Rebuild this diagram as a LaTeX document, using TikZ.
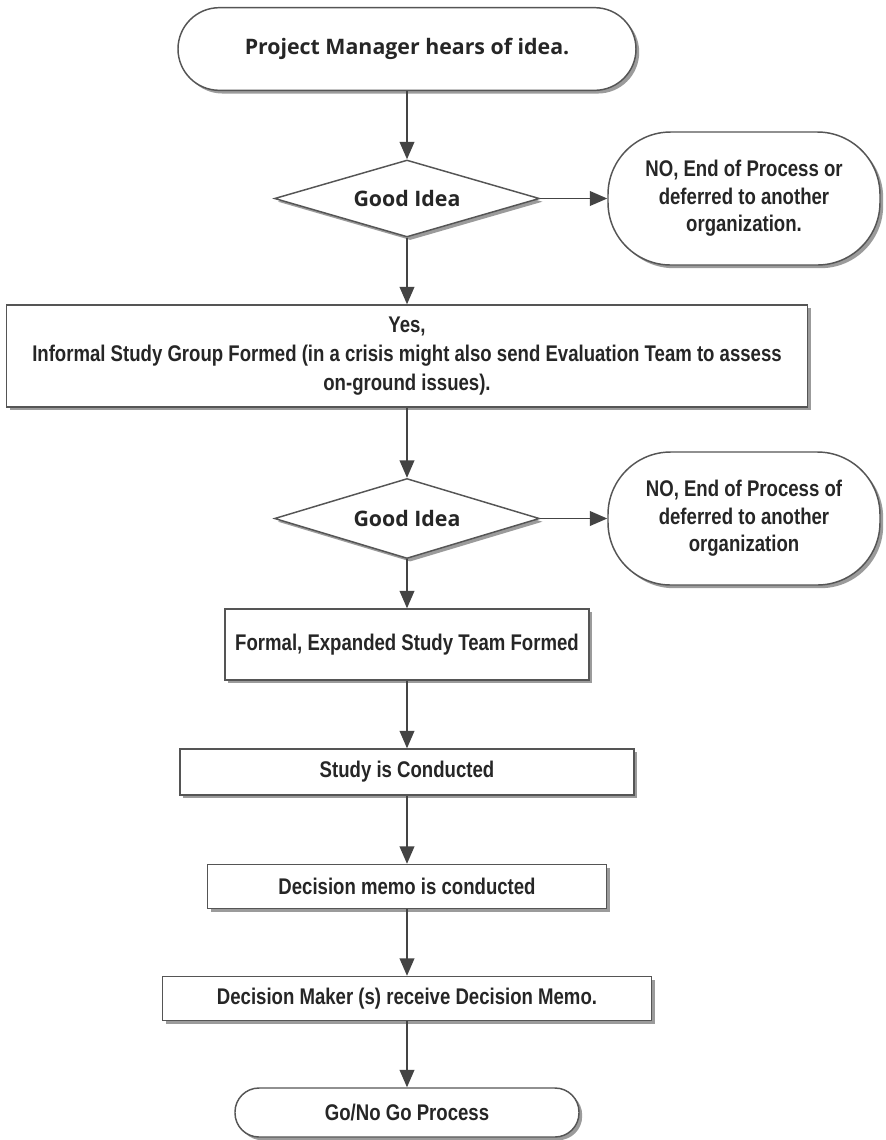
\documentclass[tikz,border=0pt]{standalone}
\usepackage{fontspec}
\setmainfont{Liberation Sans}
\newfontfamily\osfont{Open Sans}
\newfontfamily\narrowfont[FakeStretch=0.82]{Liberation Sans}
\usetikzlibrary{shapes.geometric,arrows.meta,shadows}
\definecolor{linecol}{HTML}{444444}
\definecolor{bordercol}{HTML}{555555}
\begin{document}
\begin{tikzpicture}[x=0.75pt,y=-0.75pt,
  shd/.style={drop shadow={shadow xshift=2.4pt,shadow yshift=-2.4pt,fill=black!60,opacity=0.65}},
  base/.style={draw=bordercol, line width=1.1pt, fill=white, shd, align=center, inner sep=0pt, text=black!85},
  narrowtxt/.style={font=\narrowfont\bfseries\fontsize{17}{20.5}\selectfont},
  ostxt/.style={font=\osfont\bfseries\fontsize{16}{19}\selectfont},
  box/.style={base, rectangle, narrowtxt},
  term/.style={base, rectangle, ostxt},
  nobox/.style={base, rectangle, rounded corners=47pt, narrowtxt, minimum width=204pt, minimum height=99.75pt},
  decision/.style={base, diamond, aspect=3.4, ostxt, minimum width=198.75pt, minimum height=57.75pt},
  arr/.style={draw=linecol, line width=1.1pt, -{Triangle[length=13pt,width=11pt]}}
]
\fill[white] (0,0) rectangle (886,1140);
\useasboundingbox (0,0) rectangle (886,1140);

\node[term, rounded corners=31pt, minimum width=343.5pt, minimum height=62pt] (start) at (407,49) {Project Manager hears of idea.};
\node[decision] (d1) at (407,198.5) {Good Idea};
\node[nobox] (no1) at (744,198.5) {NO, End of Process or\\deferred to another\\organization.};
\node[box, minimum width=600.75pt, minimum height=76.5pt, font=\narrowfont\bfseries\fontsize{17}{22}\selectfont] (yes) at (407,356) {Yes,\\Informal Study Group Formed (in a crisis might also send Evaluation Team to assess\\on-ground issues).};
\node[decision, minimum height=60pt] (d2) at (407,518.5) {Good Idea};
\node[nobox] (no2) at (744,518.5) {NO, End of Process of\\deferred to another\\organization};
\node[box, minimum width=273pt, minimum height=53.25pt] (formal) at (407,644.5) {Formal, Expanded Study Team Formed};
\node[box, minimum width=340.5pt, minimum height=34.5pt] (study) at (407,772) {Study is Conducted};
\node[box, minimum width=299.25pt, minimum height=33pt] (memo) at (407,886.5) {Decision memo is conducted};
\node[box, minimum width=366.75pt, minimum height=33pt] (maker) at (407,998.5) {Decision Maker (s) receive Decision Memo.};
\node[box, rounded corners=18pt, minimum width=258pt, minimum height=36.75pt] (gono) at (407,1112.5) {Go/No Go Process};

\draw[arr] (start) -- (d1);
\draw[arr] (d1) -- (no1);
\draw[arr] (d1) -- (yes);
\draw[arr] (yes) -- (d2);
\draw[arr] (d2) -- (no2);
\draw[arr] (d2) -- (formal);
\draw[arr] (formal) -- (study);
\draw[arr] (study) -- (memo);
\draw[arr] (memo) -- (maker);
\draw[arr] (maker) -- (gono);
\end{tikzpicture}
\end{document}
